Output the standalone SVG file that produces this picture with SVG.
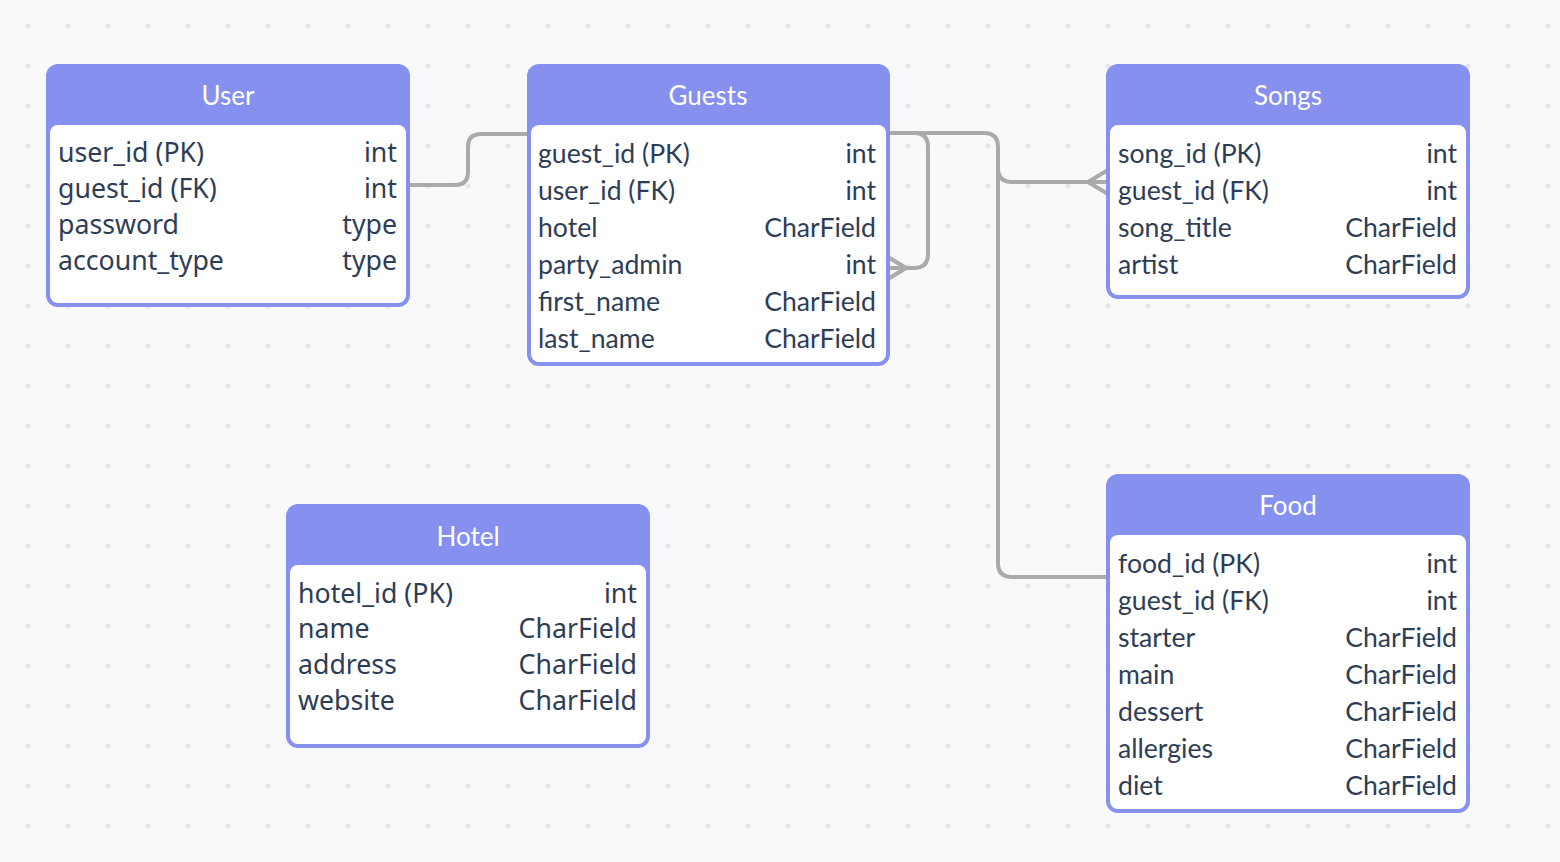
<svg xmlns="http://www.w3.org/2000/svg" width="1560" height="862" viewBox="0 0 1560 862">
<defs>
<pattern id="dots" x="0" y="0" width="40" height="40" patternUnits="userSpaceOnUse">
<circle cx="28" cy="26" r="2.6" fill="#e6e6ea"/>
</pattern>
<style>
.frame{fill:#8590ef}
.body{fill:#ffffff}
.title{font-family:Lato,"Liberation Sans",sans-serif;font-size:26px;fill:#ffffff;text-anchor:middle}
.lt{font-family:Lato,"Liberation Sans",sans-serif;font-size:26.6px;fill:#2e3d55}
.nt{font-family:"Noto Sans","Open Sans",sans-serif;font-size:26.7px;fill:#2e3d55}
.r{text-anchor:end}
.conn{fill:none;stroke:#aaaaaa;stroke-width:4;stroke-linecap:butt}
</style>
</defs>
<rect width="1560" height="862" fill="#f9f9fb"/>
<rect width="1560" height="862" fill="url(#dots)"/>

<g id="connectors">
<path class="conn" d="M410,185 H455 Q468,185 468,172 V147 Q468,134 481,134 H528"/>
<path class="conn" d="M888,133 H914 Q928,133 928,147 V254 Q928,268 914,268 H888 M906,268 L888,257 M906,268 L888,279"/>
<path class="conn" d="M888,133 H984 Q998,133 998,147 V168 Q998,182 1012,182 H1108 M1088,182 L1108,170 M1088,182 L1108,194"/>
<path class="conn" d="M998,147 V563 Q998,577 1012,577 H1108"/>
</g>

<g id="user">
<rect class="frame" x="46" y="64" width="364" height="243" rx="12"/>
<rect class="body" x="50" y="125" width="356" height="178" rx="8"/>
<text class="title" x="228" y="105">User</text>
<text class="nt" x="58" y="162">user_id (PK)</text><text class="nt r" x="397" y="162">int</text>
<text class="nt" x="58" y="198">guest_id (FK)</text><text class="nt r" x="397" y="198">int</text>
<text class="nt" x="58" y="234">password</text><text class="nt r" x="397" y="234">type</text>
<text class="nt" x="58" y="270">account_type</text><text class="nt r" x="397" y="270">type</text>
</g>

<g id="guests">
<rect class="frame" x="527" y="64" width="363" height="302" rx="12"/>
<rect class="body" x="531" y="125" width="355" height="237" rx="8"/>
<text class="title" x="708" y="105">Guests</text>
<text class="lt" x="538" y="163">guest_id (PK)</text><text class="lt r" x="876" y="163">int</text>
<text class="lt" x="538" y="200">user_id (FK)</text><text class="lt r" x="876" y="200">int</text>
<text class="lt" x="538" y="237">hotel</text><text class="lt r" x="876" y="237">CharField</text>
<text class="lt" x="538" y="274">party_admin</text><text class="lt r" x="876" y="274">int</text>
<text class="lt" x="538" y="311">first_name</text><text class="lt r" x="876" y="311">CharField</text>
<text class="lt" x="538" y="348">last_name</text><text class="lt r" x="876" y="348">CharField</text>
</g>

<g id="songs">
<rect class="frame" x="1106" y="64" width="364" height="235" rx="12"/>
<rect class="body" x="1110" y="125" width="356" height="170" rx="8"/>
<text class="title" x="1288" y="105">Songs</text>
<text class="lt" x="1118" y="163">song_id (PK)</text><text class="lt r" x="1457" y="163">int</text>
<text class="lt" x="1118" y="200">guest_id (FK)</text><text class="lt r" x="1457" y="200">int</text>
<text class="lt" x="1118" y="237">song_title</text><text class="lt r" x="1457" y="237">CharField</text>
<text class="lt" x="1118" y="274">artist</text><text class="lt r" x="1457" y="274">CharField</text>
</g>

<g id="food">
<rect class="frame" x="1106" y="474" width="364" height="339" rx="12"/>
<rect class="body" x="1110" y="535" width="356" height="274" rx="8"/>
<text class="title" x="1288" y="515">Food</text>
<text class="lt" x="1118" y="573">food_id (PK)</text><text class="lt r" x="1457" y="573">int</text>
<text class="lt" x="1118" y="610">guest_id (FK)</text><text class="lt r" x="1457" y="610">int</text>
<text class="lt" x="1118" y="647">starter</text><text class="lt r" x="1457" y="647">CharField</text>
<text class="lt" x="1118" y="684">main</text><text class="lt r" x="1457" y="684">CharField</text>
<text class="lt" x="1118" y="721">dessert</text><text class="lt r" x="1457" y="721">CharField</text>
<text class="lt" x="1118" y="758">allergies</text><text class="lt r" x="1457" y="758">CharField</text>
<text class="lt" x="1118" y="795">diet</text><text class="lt r" x="1457" y="795">CharField</text>
</g>

<g id="hotel">
<rect class="frame" x="286" y="504" width="364" height="244" rx="12"/>
<rect class="body" x="290" y="565" width="356" height="179" rx="8"/>
<text class="title" x="468" y="546">Hotel</text>
<text class="nt" x="298" y="603">hotel_id (PK)</text><text class="nt r" x="637" y="603">int</text>
<text class="nt" x="298" y="638">name</text><text class="nt r" x="637" y="638">CharField</text>
<text class="nt" x="298" y="674">address</text><text class="nt r" x="637" y="674">CharField</text>
<text class="nt" x="298" y="710">website</text><text class="nt r" x="637" y="710">CharField</text>
</g>
</svg>
